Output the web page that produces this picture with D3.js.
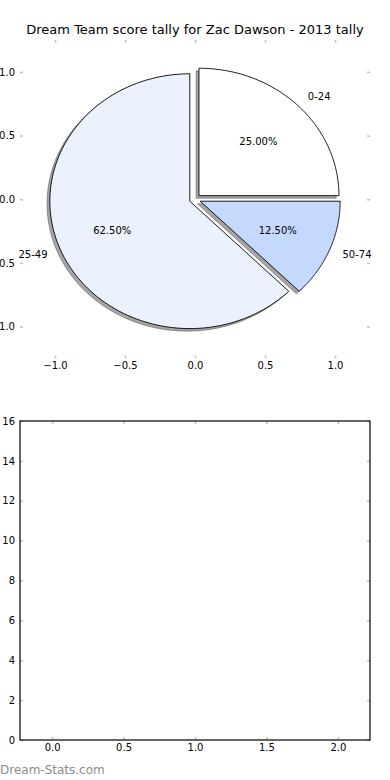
<!DOCTYPE html>
<html>
<head>
<meta charset="utf-8">
<script src="https://cdn.jsdelivr.net/npm/d3@7"></script>
<style>
  html, body { margin: 0; padding: 0; background: #ffffff; }
  svg { display: block; font-family: "DejaVu Sans", sans-serif; }
</style>
</head>
<body>
<svg id="chart" width="390" height="780"></svg>
<script>
// ---- data ----
const title = "Dream Team score tally for Zac Dawson - 2013 tally";
const categories = ["0-24", "25-49", "50-74"];
const values = [2, 5, 1];
const sliceColors = ["#ffffff", "#ebf1fd", "#c5d8fd"];
const explode = [0.04, 0.04, 0.04];
const pieTicks = [-1.0, -0.5, 0.0, 0.5, 1.0];
const barXTicks = [0.0, 0.5, 1.0, 1.5, 2.0];
const barYTicks = [0, 2, 4, 6, 8, 10, 12, 14, 16];
const watermark = "Dream-Stats.com";

const svg = d3.select("#chart");
const fmt1 = d3.format(".1f");
const minus = s => s.replace("-", "\u2212");
const tickColor = "#c4c4c4";

function styleAxis(g, remove) {
  g.select(".domain").remove();
  g.selectAll(".tick line").attr("stroke", tickColor).attr("stroke-width", 1.6);
  g.selectAll(".tick text").attr("fill", "#000").style("font-size", "10px").style("font-family", "DejaVu Sans, sans-serif");
  if (remove) g.selectAll(".tick text").remove();
}

// ---- top: pie ----
const px = d3.scaleLinear().domain([-1.25, 1.25]).range([20, 370]);
const py = d3.scaleLinear().domain([-1.25, 1.25]).range([358.5, 40]);

svg.append("text").attr("x", 195).attr("y", 34).attr("text-anchor", "middle")
  .style("font-size", "13px").attr("fill", "#000").text(title);

// axes ticks (no spines)
const axL = svg.append("g").attr("transform", `translate(${px.range()[0]},0)`)
  .call(d3.axisLeft(py).tickValues(pieTicks).tickSizeInner(-3).tickSizeOuter(0).tickPadding(5).tickFormat(d => minus(fmt1(d))));
styleAxis(axL);
const axR = svg.append("g").attr("transform", `translate(${px.range()[1]},0)`)
  .call(d3.axisRight(py).tickValues(pieTicks).tickSizeInner(-3).tickSizeOuter(0));
styleAxis(axR, true);
const axB = svg.append("g").attr("transform", `translate(0,${py.range()[0]})`)
  .call(d3.axisBottom(px).tickValues(pieTicks).tickSizeInner(-3).tickSizeOuter(0).tickPadding(3).tickFormat(d => minus(fmt1(d))));
styleAxis(axB);
const axT = svg.append("g").attr("transform", `translate(0,${py.range()[1]})`)
  .call(d3.axisTop(px).tickValues(pieTicks).tickSizeInner(-3).tickSizeOuter(0));
styleAxis(axT, true);

const pie = d3.pie().sort(null).startAngle(0).endAngle(2 * Math.PI);
const arcs = pie(values);
const total = d3.sum(values);
const line = d3.line();

function wedgePts(a, ox, oy) {
  const pts = [[px(ox), py(oy)]];
  const n = 120;
  for (let i = 0; i <= n; i++) {
    const t = a.startAngle + (a.endAngle - a.startAngle) * i / n;
    pts.push([px(ox + Math.cos(t)), py(oy + Math.sin(t))]);
  }
  pts.push([px(ox), py(oy)]);
  return pts;
}

const pieData = arcs.map((a, i) => {
  const mid = (a.startAngle + a.endAngle) / 2;
  return { a, i, mid, ox: explode[i] * Math.cos(mid), oy: explode[i] * Math.sin(mid) };
});

// shadows
svg.append("g").selectAll("path").data(pieData).join("path")
  .attr("d", d => line(wedgePts(d.a, d.ox - 0.02, d.oy - 0.02)) + "Z")
  .attr("fill", "rgb(77,77,77)").attr("fill-opacity", 0.5)
  .attr("stroke", "rgb(77,77,77)").attr("stroke-opacity", 0.5).attr("stroke-width", 1);

// wedges
svg.append("g").selectAll("path").data(pieData).join("path")
  .attr("d", d => line(wedgePts(d.a, d.ox, d.oy)) + "Z")
  .attr("fill", d => sliceColors[d.i]).attr("stroke", "#000").attr("stroke-width", 0.9)
  .attr("stroke-linejoin", "miter");

// category labels
svg.append("g").selectAll("text").data(pieData).join("text")
  .attr("x", d => px(d.ox + 1.1 * Math.cos(d.mid)))
  .attr("y", d => py(d.oy + 1.1 * Math.sin(d.mid)))
  .attr("dy", "0.35em")
  .attr("text-anchor", d => Math.cos(d.mid) < 0 ? "end" : "start")
  .style("font-size", "10px").attr("fill", "#000")
  .text(d => categories[d.i]);

// percent labels
svg.append("g").selectAll("text").data(pieData).join("text")
  .attr("x", d => px(d.ox + 0.6 * Math.cos(d.mid)))
  .attr("y", d => py(d.oy + 0.6 * Math.sin(d.mid)))
  .attr("dy", "0.35em").attr("text-anchor", "middle")
  .style("font-size", "10px").attr("fill", "#000")
  .text(d => d3.format(".2f")(100 * values[d.i] / total) + "%");

// ---- bottom: empty bar axes ----
const bx = d3.scaleLinear().domain([-0.225, 2.225]).range([20, 370]);
const by = d3.scaleLinear().domain([0, 16]).range([740, 421]);

const bL = svg.append("g").attr("transform", `translate(${bx.range()[0]},0)`)
  .call(d3.axisLeft(by).tickValues(barYTicks).tickSizeInner(-3).tickSizeOuter(0).tickPadding(5).tickFormat(d3.format("d")));
styleAxis(bL);
const bR = svg.append("g").attr("transform", `translate(${bx.range()[1]},0)`)
  .call(d3.axisRight(by).tickValues(barYTicks).tickSizeInner(-3).tickSizeOuter(0));
styleAxis(bR, true);
const bB = svg.append("g").attr("transform", `translate(0,${by.range()[0]})`)
  .call(d3.axisBottom(bx).tickValues(barXTicks).tickSizeInner(-3).tickSizeOuter(0).tickPadding(4).tickFormat(fmt1));
styleAxis(bB);
const bT = svg.append("g").attr("transform", `translate(0,${by.range()[1]})`)
  .call(d3.axisTop(bx).tickValues(barXTicks).tickSizeInner(-3).tickSizeOuter(0));
styleAxis(bT, true);

svg.append("rect")
  .attr("x", bx.range()[0]).attr("y", by.range()[1])
  .attr("width", bx.range()[1] - bx.range()[0]).attr("height", by.range()[0] - by.range()[1])
  .attr("fill", "none").attr("stroke", "#000").attr("stroke-width", 1.2);

// watermark
svg.append("text").attr("x", 0).attr("y", 774)
  .style("font-size", "12px").attr("fill", "#8c8c8c").text(watermark);
</script>
</body>
</html>
